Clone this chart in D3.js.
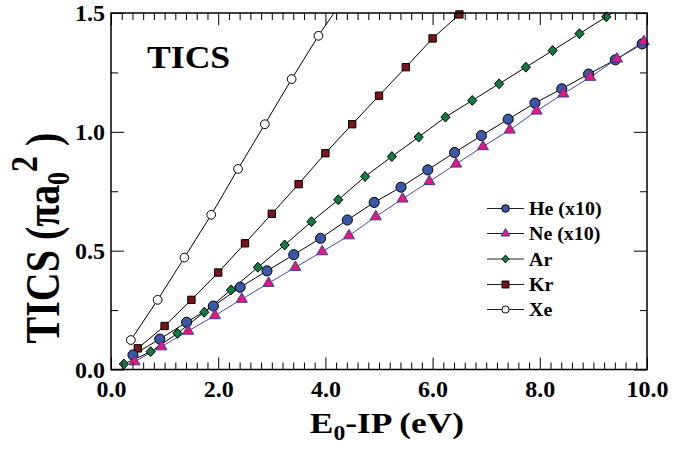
<!DOCTYPE html>
<html>
<head>
<meta charset="utf-8">
<script src="https://cdn.jsdelivr.net/npm/d3@7"></script>
<style>
  html, body { margin: 0; padding: 0; background: #fff; }
  svg text { font-family: "Liberation Serif", "Times New Roman", Times, serif; font-weight: bold; fill: #000; }
</style>
</head>
<body>
<svg id="chart" width="688" height="455"></svg>
<script>
// ---- data ----
const heX = [0.41,0.91,1.41,1.91,2.41,2.91,3.41,3.91,4.41,4.91,5.41,5.91,6.41,6.91,7.41,7.91,8.41,8.91,9.41,9.91];
const heY = [0.061,0.128,0.199,0.267,0.346,0.415,0.483,0.552,0.629,0.703,0.767,0.840,0.913,0.984,1.053,1.121,1.181,1.243,1.303,1.370];
const neX = [0.44,0.94,1.44,1.94,2.44,2.94,3.44,3.94,4.44,4.94,5.44,5.94,6.44,6.94,7.44,7.94,8.44,8.94,9.44,9.94];
const neY = [0.033,0.096,0.162,0.227,0.296,0.363,0.430,0.496,0.563,0.643,0.718,0.791,0.865,0.938,1.008,1.088,1.160,1.230,1.307,1.380];
const arX = [0.24,0.74,1.24,1.74,2.24,2.74,3.24,3.74,4.24,4.74,5.24,5.74,6.24,6.74,7.24,7.74,8.24,8.74,9.24,9.74];
const arY = [0.023,0.075,0.152,0.241,0.335,0.430,0.524,0.622,0.714,0.812,0.896,0.978,1.062,1.132,1.202,1.272,1.342,1.413,1.484,1.555];
const krX = [0.5,1.0,1.5,2.0,2.5,3.0,3.5,4.0,4.5,5.0,5.5,6.0,6.5];
const krY = [0.089,0.183,0.293,0.408,0.531,0.655,0.780,0.910,1.032,1.152,1.272,1.393,1.494];
const xeX = [0.37,0.87,1.37,1.87,2.37,2.87,3.37,3.87,4.37];
const xeY = [0.124,0.293,0.471,0.651,0.844,1.032,1.222,1.404,1.570];

const seriesNames = ["He (x10)", "Ne (x10)", "Ar", "Kr", "Xe"];
const xMajorTicks = [0, 2, 4, 6, 8, 10];
const xMinorTicks = [0.2,0.4,0.6,0.8,1.0,1.2,1.4,1.6,1.8,2.2,2.4,2.6,2.8,3.0,3.2,3.4,3.6,3.8,4.2,4.4,4.6,4.8,5.0,5.2,5.4,5.6,5.8,6.2,6.4,6.6,6.8,7.0,7.2,7.4,7.6,7.8,8.2,8.4,8.6,8.8,9.0,9.2,9.4,9.6,9.8];
const yMajorTicks = [0, 0.5, 1.0, 1.5];
const yMinorTicks = [0.25, 0.75, 1.25];

// ---- layout ----
const L = 111, R = 647, T = 13, B = 369.5;
const svg = d3.select("#chart");
const x = d3.scaleLinear().domain([0, 10]).range([L, R]);
const y = d3.scaleLinear().domain([0, 1.5]).range([B, T]);

// diamond drawn as a square turned 45 degrees
const squareDiamond = {
  draw(ctx, size) {
    const h = Math.sqrt(size / 2);
    ctx.moveTo(0, -h * 1.08); ctx.lineTo(h, 0); ctx.lineTo(0, h * 1.08); ctx.lineTo(-h, 0); ctx.closePath();
  }
};

const series = [
  { name: seriesNames[4], xs: xeX, ys: xeY, shape: d3.symbolCircle, size: 60, fill: "#ffffff", stroke: "#000", line: "#000", lsize: 40 },
  { name: seriesNames[3], xs: krX, ys: krY, shape: d3.symbolSquare, size: 54, fill: "#7a1418", stroke: "#000", line: "#000", lsize: 48 },
  { name: seriesNames[2], xs: arX, ys: arY, shape: squareDiamond, size: 42, fill: "#127b3e", stroke: "#000", line: "#000", lsize: 26 },
  { name: seriesNames[0], xs: heX, ys: heY, shape: d3.symbolCircle, size: 80, fill: "#3a58a8", stroke: "#000", line: "#000", lsize: 46 },
  { name: seriesNames[1], xs: neX, ys: neY, shape: d3.symbolTriangle, size: 52, fill: "#e5197d", stroke: "#3a3a9c", line: "#4848a8", lsize: 32 }
];

svg.append("defs").append("clipPath").attr("id", "clip")
  .append("rect").attr("x", L).attr("y", T).attr("width", R - L).attr("height", B - T);

// lines
const lineGen = d3.line().x(d => x(d[0])).y(d => y(d[1]));
const gLines = svg.append("g").attr("clip-path", "url(#clip)");
series.forEach(s => {
  const pts = s.xs.map((v, i) => [v, s.ys[i]]);
  gLines.append("path").datum(pts).attr("d", lineGen)
    .attr("fill", "none").attr("stroke", s.line).attr("stroke-width", 1);
});
// markers
series.forEach(s => {
  const pts = s.xs.map((v, i) => [v, s.ys[i]]).filter(p => p[1] <= 1.5);
  svg.append("g").selectAll("path").data(pts).join("path")
    .attr("transform", d => `translate(${x(d[0])},${y(d[1])})`)
    .attr("d", d3.symbol().type(s.shape).size(s.size))
    .attr("fill", s.fill).attr("stroke", s.stroke).attr("stroke-width", 1);
});

// axes (inward ticks)
function styleAxis(g) {
  g.select(".domain").remove();
  g.selectAll("line").attr("stroke", "#000").attr("stroke-width", 1);
  g.selectAll("text").attr("font-size", 24).attr("fill", "#000");
}
svg.append("g").attr("transform", `translate(0,${B})`)
  .call(d3.axisBottom(x).tickValues(xMajorTicks).tickFormat(d3.format(".1f")).tickSize(-12).tickPadding(10)).call(styleAxis);
svg.append("g").attr("transform", `translate(0,${B})`)
  .call(d3.axisBottom(x).tickValues(xMinorTicks).tickFormat("").tickSize(-7)).call(styleAxis);
svg.append("g").attr("transform", `translate(0,${T})`)
  .call(d3.axisTop(x).tickValues(xMajorTicks).tickFormat("").tickSize(-12)).call(styleAxis);
svg.append("g").attr("transform", `translate(0,${T})`)
  .call(d3.axisTop(x).tickValues(xMinorTicks).tickFormat("").tickSize(-7)).call(styleAxis);
svg.append("g").attr("transform", `translate(${L},0)`)
  .call(d3.axisLeft(y).tickValues(yMajorTicks).tickFormat(d3.format(".1f")).tickSize(-13).tickPadding(6)).call(styleAxis);
svg.append("g").attr("transform", `translate(${L},0)`)
  .call(d3.axisLeft(y).tickValues(yMinorTicks).tickFormat("").tickSize(-7)).call(styleAxis);
svg.append("g").attr("transform", `translate(${R},0)`)
  .call(d3.axisRight(y).tickValues(yMajorTicks).tickFormat("").tickSize(-13)).call(styleAxis);
svg.append("g").attr("transform", `translate(${R},0)`)
  .call(d3.axisRight(y).tickValues(yMinorTicks).tickFormat("").tickSize(-7)).call(styleAxis);

// frame
svg.append("rect").attr("x", L).attr("y", T).attr("width", R - L).attr("height", B - T)
  .attr("fill", "none").attr("stroke", "#000").attr("stroke-width", 1.5);

// in-plot label
svg.append("text").attr("transform", "translate(147,68) scale(1.15,1)").attr("font-size", 31).text("TICS");

// x title
const xt = svg.append("text").attr("transform", "translate(387,433) scale(1.18,1)").attr("text-anchor", "middle").attr("font-size", 30);
xt.append("tspan").text("E");
xt.append("tspan").attr("font-size", 20).attr("dy", 7).text("0");
xt.append("tspan").attr("dy", -7).text("-IP (eV)");

// y title
const yt = svg.append("text").attr("transform", "translate(59,238) rotate(-90) scale(1,1.2)").attr("text-anchor", "middle").attr("font-size", 40);
yt.append("tspan").text("TICS (\u03C0a");
yt.append("tspan").attr("font-size", 26).attr("dy", 8).text("0");
yt.append("tspan").attr("font-size", 32).attr("dy", -26).text("2");
yt.append("tspan").attr("dy", 18).text(" )");

// legend
const legOrder = [3, 4, 2, 1, 0];
const legY = [208.5, 233.5, 259, 284.5, 309.5];
const gLeg = svg.append("g");
legOrder.forEach((si, i) => {
  const s = series[si];
  const yy = legY[i];
  gLeg.append("line").attr("x1", 487).attr("x2", 524).attr("y1", yy).attr("y2", yy)
    .attr("stroke", "#222").attr("stroke-width", 1);
  gLeg.append("path").attr("transform", `translate(505.5,${yy})`)
    .attr("d", d3.symbol().type(s.shape).size(s.lsize))
    .attr("fill", s.fill).attr("stroke", s.stroke).attr("stroke-width", 1);
  gLeg.append("text").attr("transform", `translate(529,${yy + 6.5}) scale(1.05,1)`).attr("font-size", 19).text(s.name);
});
</script>
</body>
</html>
